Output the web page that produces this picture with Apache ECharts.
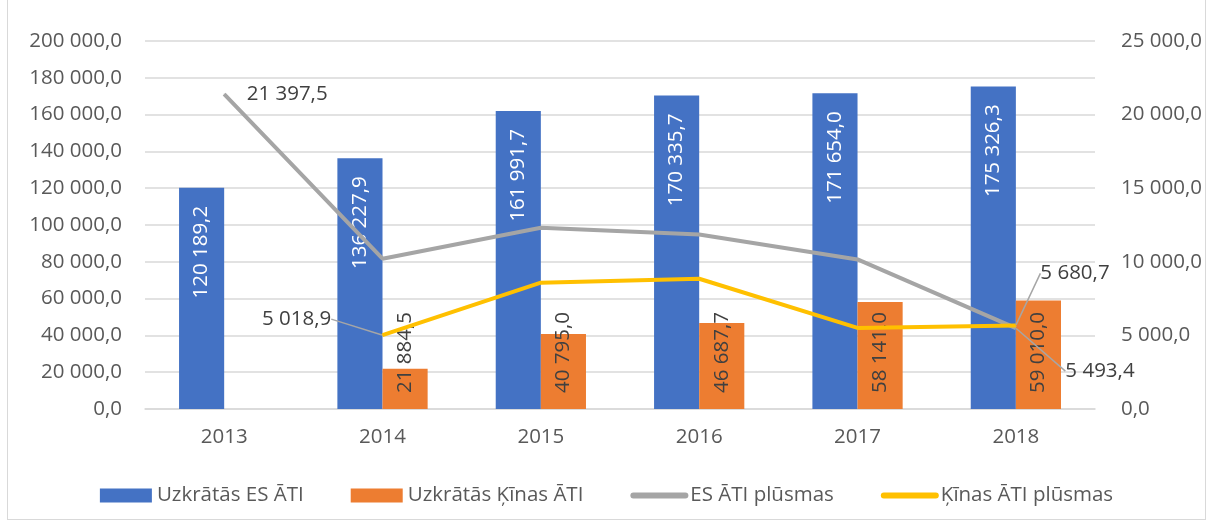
<!DOCTYPE html>
<html>
<head>
<meta charset="utf-8">
<script src="https://cdn.jsdelivr.net/npm/echarts@6/dist/echarts.min.js"></script>
<style>
  html, body { margin: 0; padding: 0; background: #fff; }
  #main { position: absolute; left: 7px; top: 0; width: 1199px; height: 520px; border: 1px solid #d9d9d9; border-top: none; box-sizing: border-box; }
</style>
</head>
<body>
<div id="main"></div>
<script>
var years = ['2013', '2014', '2015', '2016', '2017', '2018'];
var esStock = [120189.2, 136227.9, 161991.7, 170335.7, 171654.0, 175326.3];
var cnStock = [null, 21884.5, 40795.0, 46687.7, 58141.0, 59010.0];
var esFlow = [21397.5, 10210, 12310, 11860, 10160, 5493.4];
var cnFlow = [null, 5018.9, 8580, 8850, 5510, 5680.7];
// which line points get a value label
var esFlowLabels = [0, 5];
var cnFlowLabels = [1, 5];

var FONT = 'Open Sans';
var FS = 20.5;

function fmt(v) {
    var s = Number(v).toFixed(1).split('.');
    return s[0].replace(/\B(?=(\d{3})+(?!\d))/g, ' ') + ',' + s[1];
}

var myChart = echarts.init(document.getElementById('main'));

function lineData(arr, shown) {
    return arr.map(function (v, i) {
        return {
            value: v,
            label: { show: shown.indexOf(i) >= 0 },
            labelLine: { show: i !== 0 }
        };
    });
}

myChart.setOption({
    textStyle: { fontFamily: FONT },
    grid: { left: 137, right: 107, top: 41, bottom: 110 },
    legend: {
        top: 480,
        left: 'center',
        itemWidth: 52,
        itemHeight: 14,
        itemGap: 47,
        textStyle: { fontFamily: FONT, fontSize: FS, color: '#595959' },
        data: [
            { name: 'Uzkrātās ES ĀTI', icon: 'rect' },
            { name: 'Uzkrātās Ķīnas ĀTI', icon: 'rect' },
            { name: 'ES ĀTI plūsmas', itemStyle: { opacity: 0 }, lineStyle: { width: 6, cap: 'round' } },
            { name: 'Ķīnas ĀTI plūsmas', itemStyle: { opacity: 0 }, lineStyle: { width: 6, cap: 'round' } }
        ]
    },
    xAxis: {
        type: 'category',
        data: years,
        axisTick: { show: false },
        axisLine: { lineStyle: { color: '#d9d9d9', width: 1.5 } },
        axisLabel: { fontFamily: FONT, fontSize: FS, color: '#595959', margin: 18 }
    },
    yAxis: [{
        type: 'value',
        min: 0, max: 200000, interval: 20000,
        axisLabel: { fontFamily: FONT, fontSize: FS, color: '#595959', margin: 23, formatter: fmt },
        splitLine: { lineStyle: { color: '#d9d9d9', width: 1.5 } }
    }, {
        type: 'value',
        min: 0, max: 25000, interval: 5000,
        axisLabel: { fontFamily: FONT, fontSize: FS, color: '#595959', margin: 26, formatter: fmt },
        splitLine: { show: false }
    }],
    series: [{
        name: 'Uzkrātās ES ĀTI',
        type: 'bar',
        data: esStock,
        barGap: '0%',
        barCategoryGap: '43%',
        itemStyle: { color: '#4472C4' },
        label: {
            show: true, position: 'insideTop', rotate: 90, align: 'right', verticalAlign: 'middle',
            distance: 18, color: '#fff', fontFamily: FONT, fontSize: FS,
            formatter: function (p) { return fmt(p.value); }
        }
    }, {
        name: 'Uzkrātās Ķīnas ĀTI',
        type: 'bar',
        data: cnStock,
        itemStyle: { color: '#ED7D31' },
        label: {
            show: true, position: 'insideBottom', rotate: 90, align: 'left', verticalAlign: 'middle',
            distance: 16, color: '#404040', fontFamily: FONT, fontSize: FS,
            formatter: function (p) { return p.value == null ? '' : fmt(p.value); }
        }
    }, {
        name: 'ES ĀTI plūsmas',
        type: 'line',
        yAxisIndex: 1,
        data: lineData(esFlow, esFlowLabels),
        symbol: 'circle',
        symbolSize: 1,
        itemStyle: { color: '#A5A5A5' },
        lineStyle: { color: '#A5A5A5', width: 4 },
        label: {
            position: 'right', distance: 22, color: '#404040', fontFamily: FONT, fontSize: FS,
            formatter: function (p) { return fmt(p.value); }
        },
        labelLine: { show: true, lineStyle: { color: '#a6a6a6', width: 1.5 } },
        labelLayout: function (p) {
            if (p.dataIndex === 5) return { dx: 27, dy: 43 };
            return {};
        }
    }, {
        name: 'Ķīnas ĀTI plūsmas',
        type: 'line',
        yAxisIndex: 1,
        data: lineData(cnFlow, cnFlowLabels),
        symbol: 'circle',
        symbolSize: 1,
        itemStyle: { color: '#FFC000' },
        lineStyle: { color: '#FFC000', width: 4 },
        label: {
            position: 'right', distance: 5, color: '#404040', fontFamily: FONT, fontSize: FS,
            formatter: function (p) { return fmt(p.value); }
        },
        labelLine: { show: true, lineStyle: { color: '#a6a6a6', width: 1.5 } },
        labelLayout: function (p) {
            if (p.dataIndex === 1) return { dx: -126, dy: -16 };
            if (p.dataIndex === 5) return { dx: 19, dy: -52 };
            return {};
        }
    }]
});
</script>
</body>
</html>
